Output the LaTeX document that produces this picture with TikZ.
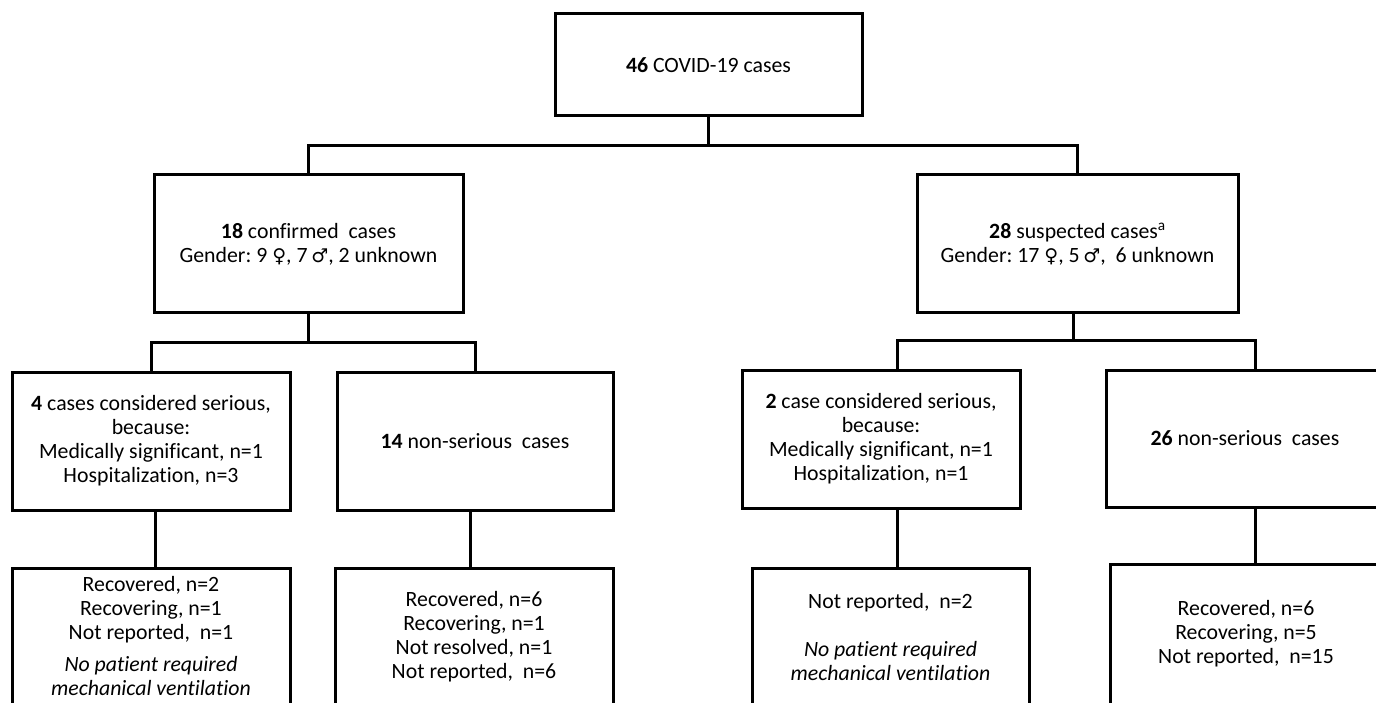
\documentclass[tikz,border=0pt]{standalone}
\usepackage{fontspec}
\setmainfont{Carlito}[Ligatures=NoCommon]
\newfontfamily\gsym{DejaVu Sans}
\usetikzlibrary{calc}
\newcommand\boxfont{\fontsize{21.8}{24}\selectfont}
\newcommand\fem{{\gsym\fontsize{19}{24}\selectfont ♀}}
\newcommand\mal{{\gsym\fontsize{19}{24}\selectfont ♂}}
\tikzset{
  box/.style={draw=black, line width=3pt, rectangle, inner sep=0pt, align=center, font=\boxfont},
  link/.style={draw=black, line width=3pt},
  txt/.style={align=center, inner sep=0pt, font=\boxfont}
}
\begin{document}
\begin{tikzpicture}[x=1pt,y=-1pt]
\useasboundingbox (0,0) rectangle (1376,703);
\clip (0,0) rectangle (1376,703);
\fill[white] (0,0) rectangle (1376,703);
% level 1
\node[box, minimum width=307pt, minimum height=102pt] (top) at (708.5,65) {\textbf{46} COVID-19 cases};
% level 2
\node[box, minimum width=309pt, minimum height=138pt] (lm) at (308.5,244)
  {\textbf{18} confirmed\ \ cases\\Gender:\ 9 \fem, 7\,\mal, 2 unknown};
\node[box, minimum width=321pt, minimum height=138pt] (rm) at (1077.5,244)
  {\textbf{28} suspected cases\textsuperscript{a}\\Gender:\ 17 \fem, 5\,\mal,\ \ 6 unknown};
% level 3
\node[box, minimum width=278pt, minimum height=138pt] (ll) at (151,441)
  {\textbf{4} cases considered serious,\\because:\\Medically significant, n=1\\Hospitalization, n=3};
\node[box, minimum width=276pt, minimum height=138pt] (lr) at (475,441)
  {\textbf{14} non-serious\ \ cases};
\node[box, minimum width=278pt, minimum height=138pt] (rl) at (881,439)
  {\textbf{2} case considered serious,\\because:\\Medically significant, n=1\\Hospitalization, n=1};
\node[box, minimum width=278pt, minimum height=137pt] (rr) at (1245,438.5)
  {\textbf{26} non-serious\ \ cases};
% level 4 (boxes run past the lower edge)
\node[box, minimum width=278pt, minimum height=170pt] (bll) at (151,653) {};
\node[box, minimum width=278pt, minimum height=170pt] (blr) at (474,653) {};
\node[box, minimum width=277pt, minimum height=170pt] (brl) at (890.5,653) {};
\node[box, minimum width=272pt, minimum height=174pt] (brr) at (1246,651) {};
\node[txt] (bllt) at (151,636) {Recovered, n=2\\Recovering, n=1\\Not reported,\ \ n=1\\[8pt]\textit{No patient required}\\\textit{mechanical ventilation}};
\node[txt] (blrt) at (474,637) {Recovered, n=6\\Recovering, n=1\\Not resolved, n=1\\Not reported,\ \ n=6};
\node[txt] (brlt) at (890.5,637) {Not reported,\ \ n=2\\[24pt]\textit{No patient required}\\\textit{mechanical ventilation}};
\node[txt] (brrt) at (1246,634) {Recovered, n=6\\Recovering, n=5\\Not reported,\ \ n=15};
% junctions
\coordinate (j1) at (708.5,146);
\coordinate (j2) at (308.5,342);
\coordinate (j3) at (1073,340);
% connectors
\draw[link] (top.south) -- (j1);
\draw[link] (lm.north) |- (j1) -| (rm.north);
\draw[link] (lm.south) -- (j2);
\draw[link] (ll.north) |- (j2) -| (lr.north);
\draw[link] ($(rm.south)+(-4.5,0)$) -- (j3);
\draw[link] ($(rl.north)+(16,0)$) |- (j3) -| ($(rr.north)+(10,0)$);
\draw[link] ($(ll.south)+(4,0)$) -- ($(bll.north)+(4,0)$);
\draw[link] ($(lr.south)+(-5,0)$) -- ($(blr.north)+(-4,0)$);
\draw[link] ($(rl.south)+(16,0)$) -- ($(brl.north)+(6.5,0)$);
\draw[link] ($(rr.south)+(10,0)$) -- ($(brr.north)+(9,0)$);
\end{tikzpicture}
\end{document}
